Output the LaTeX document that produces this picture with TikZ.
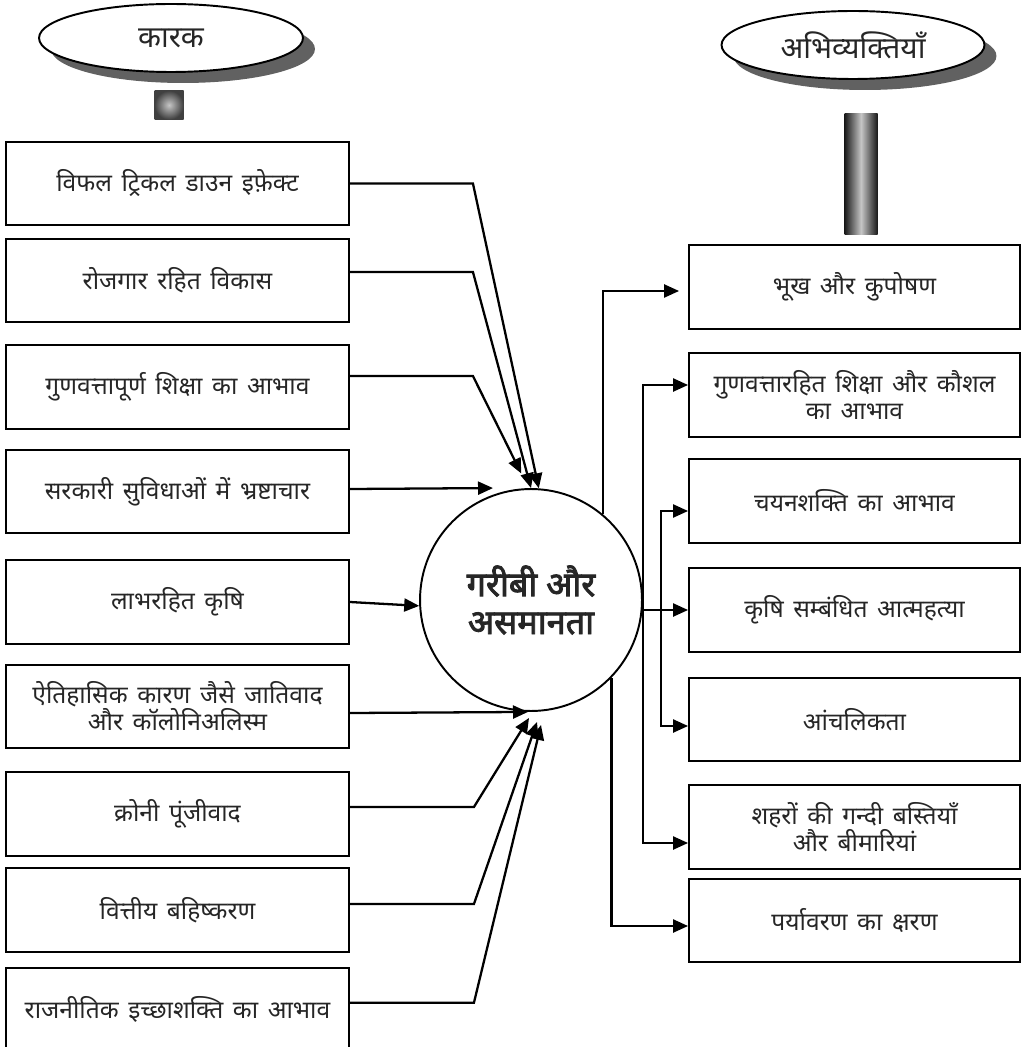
\documentclass[tikz,border=0pt]{standalone}
\usepackage{fontspec}
\newfontfamily\hindi[Script=Devanagari,WordSpace=1.5]{Noto Sans}
\newfontfamily\hindibf[Script=Devanagari,FakeBold=2.5]{Noto Sans}
\usetikzlibrary{arrows.meta,positioning,shapes.geometric,shadows}

\tikzset{
  cause/.style={draw, line width=1.1pt, minimum width=6.86cm, minimum height=1.67cm,
    inner sep=1pt, align=center, text=black!85, font=\hindi\fontsize{14}{15.5}\selectfont},
  effect/.style={cause, minimum width=6.62cm},
  arr/.style={line width=1.3pt, -{Triangle[length=0.3cm,width=0.26cm]}},
  headtag/.style={ellipse, draw, fill=white, line width=1.1pt, inner sep=0pt,
    text=black!85, font=\hindi\fontsize{17}{19}\selectfont,
    general shadow={shadow xshift=0.24cm, shadow yshift=-0.22cm, fill=black!62}},
}

\begin{document}
\begin{tikzpicture}[x=0.02cm, y=-0.02cm]
\useasboundingbox (0,0) rectangle (1031,1047);

% headings
\node[headtag, minimum width=5.28cm, minimum height=1.36cm] (karak) at (171,38) {कारक};
\node[headtag, minimum width=5.26cm, minimum height=1.36cm] (abhi) at (853,45) {अभिव्यक्तियाँ};
\node[minimum size=0.58cm, inner sep=0pt, shading=radial, inner color=gray!45, outer color=black!75] (kbar) at (169,105) {};
\node[minimum width=0.66cm, minimum height=2.44cm, inner sep=0pt, left color=black!90, right color=black!90, middle color=gray!45] (abar) at (861,174) {};

% centre
\node[circle, draw, line width=1.1pt, minimum size=4.44cm, inner sep=0pt, align=center,
  text=black!85, font=\hindibf\fontsize{19.5}{21.5}\selectfont] (C) at (531,600) {गरीबी और\\असमानता};

% causes (left)
\foreach \n/\y/\txt in {1/183.5/विफल ट्रिकल डाउन इफ़ेक्ट,
                        2/280.5/रोजगार रहित विकास,
                        3/387/गुणवत्तापूर्ण शिक्षा का आभाव,
                        4/491.5/सरकारी सुविधाओं में भ्रष्टाचार,
                        5/602/लाभरहित कृषि,
                        6/706.5/{ऐतिहासिक कारण जैसे जातिवाद\\और कॉलोनिअलिस्म},
                        7/814/क्रोनी पूंजीवाद,
                        8/910/वित्तीय बहिष्करण,
                        9/1009.5/राजनीतिक इच्छाशक्ति का आभाव} {
  \node[cause] (L\n) at (177.5,\y) {\txt};
}

% effects (right)
\foreach \n/\y/\txt in {1/287/भूख और कुपोषण,
                        2/395/{गुणवत्तारहित शिक्षा और कौशल\\का आभाव},
                        3/501/चयनशक्ति का आभाव,
                        4/610/कृषि सम्बंधित आत्महत्या,
                        5/719.5/आंचलिकता,
                        6/827/{शहरों की गन्दी बस्तियाँ\\और बीमारियां},
                        7/920.5/पर्यावरण का क्षरण} {
  \node[effect] (R\n) at (854.5,\y) {\txt};
}

% causes -> centre
\draw[arr] (L1.east) -- ++(123,0) -- (C.86);
\draw[arr] ([yshift=0.17cm]L2.east) -- ++(123,0) -- (C.90);
\draw[arr] ([yshift=0.22cm]L3.east) -- ++(123,0) -- ([yshift=0.3cm]C.95);
\draw[arr] ([yshift=0.05cm]L4.east) -- ([xshift=-0.76cm]C.north);
\draw[arr] (L5.east) -- (C.183);
\draw[arr] ([yshift=-0.13cm]L6.east) -- ([xshift=-0.06cm]C.south);
\draw[arr] ([yshift=0.14cm]L7.east) -- ++(124,0) -- ([xshift=-0.04cm,yshift=-0.12cm]C.south);
\draw[arr] ([yshift=0.12cm]L8.east) -- ++(124,0) -- ([xshift=0.12cm,yshift=-0.2cm]C.south);
\draw[arr] ([yshift=0.135cm]L9.east) -- ++(124,0) -- ([xshift=0.2cm,yshift=-0.26cm]C.south);

% centre -> effects
\coordinate (j) at (661,610);
\draw[arr] (C.50) |- ([xshift=-0.18cm,yshift=-0.08cm]R1.west);
\draw[arr] (C.east) |- ([yshift=0.2cm]R2.west);
\draw[arr] (C.east |- R4.west) -- (R4.west);
\draw[arr] (C.east) |- ([yshift=-0.32cm]R6.west);
\draw[arr] (j) |- ([yshift=-0.2cm]R3.west);
\draw[arr] (j) |- ([yshift=-0.13cm]R5.west);
\draw[arr] (C.-44) |- ([yshift=-0.11cm]R7.west);
\end{tikzpicture}
\end{document}
